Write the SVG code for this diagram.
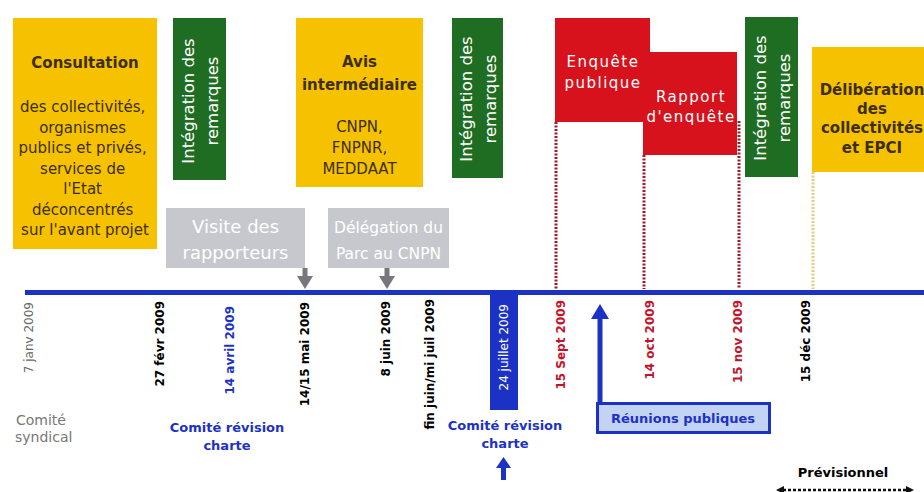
<svg xmlns="http://www.w3.org/2000/svg" width="924" height="492" viewBox="0 0 924 492">
<style>
text{font-family:"DejaVu Sans","Liberation Sans",sans-serif}
.yel{fill:#f6c200}
.grn{fill:#1f6d22}
.red{fill:#d7121c}
.gry{fill:#c6c8ce}
.yt{fill:#3d2e06;font-size:15px}
.b{font-weight:bold}
.gt{fill:#ffffff;font-size:16.5px}
.wt{fill:#ffffff}
.rt{fill:#ffffff;font-size:15px;letter-spacing:1.5px}
.dt{font-size:12px;font-weight:bold}
.bl{fill:#1c32c4}
.rd{fill:#c4122a}
.dot{stroke-width:3;stroke-dasharray:2 1.5;fill:none}
</style>
<rect width="924" height="492" fill="#ffffff"/>

<g id="consultation">
<rect class="yel" x="13" y="18" width="144" height="231"/>
<text class="yt b" x="85" y="68" text-anchor="middle">Consultation</text>
<text class="yt" text-anchor="middle" font-size="15.5">
<tspan x="85" y="112">des collectivités,</tspan>
<tspan x="85" y="132.5">organismes</tspan>
<tspan x="85" y="153">publics et privés,</tspan>
<tspan x="85" y="173.5">services de</tspan>
<tspan x="85" y="194">l'Etat</tspan>
<tspan x="85" y="214.5">déconcentrés</tspan>
<tspan x="85" y="235">sur l'avant projet</tspan>
</text>
</g>

<g id="integration1">
<rect class="grn" x="173" y="18" width="53" height="162"/>
<text class="gt" transform="translate(199.5,101) rotate(-90)" text-anchor="middle"><tspan x="0" y="-6">Intégration des</tspan><tspan x="0" y="18">remarques</tspan></text>
</g>

<g id="visite">
<rect class="gry" x="166" y="208" width="139" height="60"/>
<text class="wt" font-size="18" text-anchor="middle"><tspan x="235.5" y="233">Visite des</tspan><tspan x="235.5" y="259">rapporteurs</tspan></text>
</g>

<g id="avis">
<rect class="yel" x="296" y="18" width="127" height="169"/>
<text class="yt b" text-anchor="middle"><tspan x="359.5" y="67">Avis</tspan><tspan x="359.5" y="90">intermédiaire</tspan></text>
<text class="yt" font-size="16.5" text-anchor="middle"><tspan x="359.5" y="132">CNPN,</tspan><tspan x="359.5" y="153">FNPNR,</tspan><tspan x="359.5" y="174">MEDDAAT</tspan></text>
</g>

<g id="delegation">
<rect class="gry" x="328" y="208" width="121" height="60"/>
<text class="wt" font-size="15.5" text-anchor="middle"><tspan x="388.5" y="233">Délégation du</tspan><tspan x="388.5" y="259">Parc au CNPN</tspan></text>
</g>

<g id="integration2">
<rect class="grn" x="452" y="18" width="51" height="160"/>
<text class="gt" transform="translate(477.5,99) rotate(-90)" text-anchor="middle"><tspan x="0" y="-6">Intégration des</tspan><tspan x="0" y="18">remarques</tspan></text>
</g>

<g id="enquete">
<rect class="red" x="555" y="18" width="95" height="104"/>
<text class="rt" text-anchor="middle"><tspan x="603" y="67">Enquête</tspan><tspan x="603" y="88">publique</tspan></text>
</g>

<g id="rapport">
<rect class="red" x="643" y="52" width="94" height="103"/>
<text class="rt" text-anchor="middle"><tspan x="691" y="102">Rapport</tspan><tspan x="691" y="122">d'enquête</tspan></text>
</g>

<g id="integration3">
<rect class="grn" x="745" y="17" width="53" height="160"/>
<text class="gt" transform="translate(771.5,98) rotate(-90)" text-anchor="middle"><tspan x="0" y="-6">Intégration des</tspan><tspan x="0" y="18">remarques</tspan></text>
</g>

<g id="deliberation">
<rect class="yel" x="812" y="47" width="120" height="125"/>
<text class="yt b" font-size="15.5" text-anchor="middle"><tspan x="872" y="95">Délibération</tspan><tspan x="872" y="114">des</tspan><tspan x="872" y="133">collectivités</tspan><tspan x="872" y="153">et EPCI</tspan></text>
</g>

<g id="juillet24">
<rect class="bl" x="490" y="293" width="28" height="117"/>
<text class="wt" font-size="12" transform="translate(508,304) rotate(-90)" text-anchor="end">24 juillet 2009</text>
</g>

<g id="reunions">
<rect x="597.5" y="403.5" width="172" height="29" fill="#c3d3f3" stroke="#1c32c4" stroke-width="3"/>
<text class="bl b" font-size="13" x="683" y="422.5" text-anchor="middle">Réunions publiques</text>
</g>

<g id="dates">
<text font-size="12" fill="#666" transform="translate(33,302) rotate(-90)" text-anchor="end">7 janv 2009</text>
<text class="dt" font-size="11" transform="translate(164,301) rotate(-90)" text-anchor="end">27 févr 2009</text>
<text class="dt bl" transform="translate(234,306) rotate(-90)" text-anchor="end">14 avril 2009</text>
<text class="dt" transform="translate(309,302) rotate(-90)" text-anchor="end">14/15 mai 2009</text>
<text class="dt" font-size="12.5" transform="translate(390,301) rotate(-90)" text-anchor="end">8 juin 2009</text>
<text class="dt" font-size="11" transform="translate(434,299) rotate(-90)" text-anchor="end">fin juin/mi juil 2009</text>
<text class="dt rd" font-size="11.5" transform="translate(565,300) rotate(-90)" text-anchor="end">15 Sept 2009</text>
<text class="dt rd" transform="translate(654,300) rotate(-90)" text-anchor="end">14 oct 2009</text>
<text class="dt rd" transform="translate(742,300) rotate(-90)" text-anchor="end">15 nov 2009</text>
<text class="dt" transform="translate(810,300) rotate(-90)" text-anchor="end">15 déc 2009</text>
</g>

<g id="comite-syndical">
<text font-size="14" fill="#777"><tspan x="16" y="425">Comité</tspan><tspan x="15" y="442">syndical</tspan></text>
</g>
<g id="comite-revision1">
<text class="bl b" font-size="13" text-anchor="middle"><tspan x="227" y="432">Comité révision</tspan><tspan x="227" y="450">charte</tspan></text>
</g>
<g id="comite-revision2">
<text class="bl b" font-size="13" text-anchor="middle"><tspan x="505" y="430">Comité révision</tspan><tspan x="505" y="448">charte</tspan></text>
</g>
<g id="previsionnel">
<text class="b" font-size="13" x="843" y="477" text-anchor="middle">Prévisionnel</text>
</g>

<g id="connectors">
<line x1="25" y1="292.5" x2="924" y2="292.5" stroke="#1c32c4" stroke-width="5"/>
<line class="dot" x1="556" y1="122" x2="556" y2="289" stroke="#9a1e2c"/>
<line class="dot" x1="644" y1="155" x2="644" y2="289" stroke="#9a1e2c"/>
<line class="dot" x1="739" y1="121" x2="739" y2="289" stroke="#9a1e2c"/>
<line class="dot" x1="813" y1="172" x2="813" y2="289" stroke="#e2cd80"/>
<g fill="#77787c">
<rect x="302.5" y="268" width="5" height="8"/>
<polygon points="297,276 313,276 305,289"/>
<rect x="384.5" y="268" width="5" height="8"/>
<polygon points="379,276 395,276 387,289"/>
</g>
<g fill="#1c32c4">
<rect x="597.5" y="318" width="5" height="85"/>
<polygon points="591,319 609,319 600,304"/>
<rect x="501" y="467" width="5" height="13"/>
<polygon points="496,468 511,468 503.5,457"/>
<polygon points="776,490 784,486 784,494" fill="#111"/>
<polygon points="914,490 906,486 906,494" fill="#111"/>
</g>
<line x1="783" y1="490" x2="907" y2="490" stroke="#111" stroke-width="2.5" stroke-dasharray="3 2"/>
</g>
</svg>
